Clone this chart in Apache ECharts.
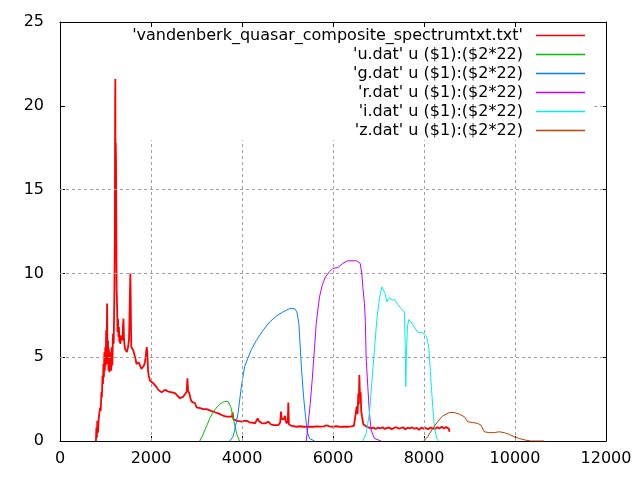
<!DOCTYPE html>
<html>
<head>
<meta charset="utf-8">
<script src="https://cdn.jsdelivr.net/npm/echarts@6/dist/echarts.min.js"></script>
<style>
  html, body { margin: 0; background: #fff; }
  #chart { width: 640px; height: 480px; }
</style>
</head>
<body>
<div id="chart"></div>
<script>
// quasar composite spectrum (wavelength in Angstrom, flux as plotted)
const specWave = [790, 800, 810, 820, 835, 850, 865, 880, 895, 910, 920, 935, 945, 955, 965, 975, 985, 995, 1005, 1015,
  1025, 1035, 1045, 1055, 1065, 1075, 1085, 1095, 1105, 1115, 1125, 1135, 1150, 1165, 1180, 1195, 1205, 1212, 1216, 1220,
  1225, 1231, 1238, 1245, 1255, 1265, 1275, 1285, 1295, 1305, 1315, 1325, 1335, 1350, 1363, 1375, 1385, 1395, 1405, 1415,
  1430, 1450, 1470, 1495, 1515, 1525, 1535, 1546, 1552, 1560, 1568, 1590, 1612, 1640, 1660, 1680, 1700, 1730, 1758, 1790,
  1817, 1845, 1868, 1890, 1905, 1919, 1935, 1950, 1978, 2000, 2050, 2090, 2125, 2161, 2198, 2235, 2270, 2308, 2345, 2381,
  2420, 2460, 2527, 2580, 2637, 2680, 2710, 2750, 2785, 2800, 2815, 2842, 2870, 2894, 2930, 2967, 3003, 3040, 3100, 3150,
  3223, 3260, 3320, 3370, 3420, 3480, 3553, 3600, 3663, 3720, 3751, 3780, 3795, 3810, 3846, 3900, 3941, 4000, 4050, 4103,
  4140, 4176, 4230, 4286, 4320, 4344, 4370, 4396, 4450, 4505, 4540, 4579, 4630, 4689, 4740, 4799, 4840, 4857, 4875, 4894,
  4920, 4945, 4960, 4982, 5007, 5018, 5030, 5055, 5090, 5128, 5200, 5280, 5350, 5421, 5500, 5580, 5650, 5720, 5800, 5861,
  5920, 6000, 6080, 6160, 6240, 6320, 6400, 6460, 6500, 6520, 6540, 6557, 6568, 6579, 6593, 6608, 6620, 6637, 6667, 6700,
  6740, 6790, 6840, 6890, 6940, 6990, 7040, 7090, 7140, 7190, 7240, 7290, 7340, 7390, 7440, 7490, 7540, 7590, 7640, 7690,
  7740, 7790, 7840, 7890, 7940, 7990, 8040, 8090, 8140, 8190, 8240, 8290, 8340, 8390, 8440, 8490, 8530, 8550, 8556];
const specFlux = [0, 0.8, 0.2, 1.2, 0.5, 1.3, 1.2, 2.0, 1.8, 2.9, 2.6, 3.9, 3.4, 4.6, 3.8, 5.3, 4.2, 5.6, 4.5, 6.6,
  5.0, 8.2, 4.6, 6.0, 4.2, 5.5, 4.1, 5.3, 4.3, 5.0, 4.2, 5.6, 4.5, 6.4, 5.8, 8.8, 12.0, 20.0, 21.6, 15.0,
  17.8, 16.8, 12.4, 9.0, 8.0, 6.5, 7.3, 6.2, 6.8, 5.9, 6.3, 5.8, 6.0, 5.9, 6.3, 6.0, 6.9, 7.3, 6.2, 5.8,
  5.5, 5.4, 5.3, 5.6, 6.0, 7.0, 8.5, 10.0, 9.0, 6.8, 5.6, 5.5, 5.4, 5.1, 4.9, 4.6, 4.5, 4.7, 4.6, 4.3,
  4.2, 4.5, 4.7, 5.2, 5.6, 5.3, 4.2, 3.9, 3.6, 3.55, 3.45, 3.35, 3.2, 3.05, 2.95, 2.9, 3.0, 3.05, 2.95, 2.95,
  3.0, 2.9, 2.85, 2.7, 2.55, 2.6, 2.65, 2.8, 2.95, 3.74, 3.0, 2.85, 2.5, 2.35, 2.3, 2.25, 2.0, 1.95, 1.95, 1.9,
  1.9, 1.85, 1.8, 1.75, 1.7, 1.65, 1.55, 1.5, 1.45, 1.45, 1.4, 1.45, 1.7, 1.3, 1.25, 1.2, 1.15, 1.15, 1.2, 1.2,
  1.15, 1.1, 1.1, 1.05, 1.15, 1.35, 1.2, 1.1, 1.05, 1.05, 1.1, 1.15, 1.0, 0.95, 0.95, 0.95, 1.1, 1.75, 1.3, 1.2,
  1.3, 1.5, 1.2, 1.05, 1.2, 2.3, 1.0, 0.95, 0.9, 0.85, 0.85, 0.88, 0.85, 0.85, 0.86, 0.85, 0.87, 0.86, 0.87, 0.94,
  0.87, 0.85, 0.88, 0.84, 0.86, 0.85, 0.87, 0.9, 0.95, 2.05, 1.6, 2.85, 2.2, 3.94, 2.65, 2.9, 1.8, 1.45, 1.0, 0.9,
  0.85, 0.8, 0.76, 0.8, 0.72, 0.8, 0.75, 0.82, 0.72, 0.78, 0.8, 0.7, 0.78, 0.82, 0.74, 0.77, 0.82, 0.7, 0.79, 0.75,
  0.81, 0.73, 0.78, 0.66, 0.8, 0.74, 0.78, 0.7, 0.8, 0.76, 0.72, 0.82, 0.75, 0.85, 0.74, 0.84, 0.78, 0.72, 0.55];

// SDSS filter curves, response as plotted (column 2 times 22)
const uWave = [3071, 3130, 3181, 3240, 3291, 3350, 3401, 3460, 3510, 3570, 3620, 3693, 3752, 3803, 3847, 3890, 3949];
const uResp = [0, 0.3, 0.65, 1.0, 1.35, 1.65, 1.85, 2.05, 2.2, 2.3, 2.35, 2.35, 2.05, 1.45, 0.85, 0.36, 0];
const gWave = [3730, 3800, 3840, 3913, 3986, 4059, 4132, 4205, 4315, 4461, 4607, 4753, 4900, 5046, 5156, 5207, 5250,
  5280, 5309, 5353, 5397, 5434, 5485, 5595];
const gResp = [0, 0.25, 0.65, 1.65, 3.25, 4.45, 4.95, 5.45, 6.0, 6.6, 7.1, 7.45, 7.7, 7.9, 7.9, 7.7, 7.0,
  5.6, 4.25, 2.65, 1.45, 0.55, 0.15, 0];
const rWave = [5412, 5448, 5500, 5543, 5595, 5631, 5670, 5704, 5763, 5836, 5924, 5997, 6107, 6216, 6325, 6523, 6597,
  6633, 6655, 6691, 6710, 6728, 6765, 6801, 6838, 6911, 7057];
const rResp = [0, 0.85, 2.25, 3.65, 5.6, 7.0, 7.9, 8.6, 9.3, 9.8, 10.1, 10.3, 10.35, 10.6, 10.75, 10.75, 10.6,
  10.0, 9.2, 8.2, 7.2, 5.0, 3.25, 1.65, 0.65, 0.15, 0];
const iWave = [6655, 6728, 6801, 6852, 6911, 6962, 7021, 7072, 7108, 7145, 7181, 7240, 7299, 7350, 7423, 7496, 7569,
  7585, 7599, 7615, 7635, 7664, 7716, 7789, 7862, 7972, 8060, 8104, 8133, 8162, 8192, 8228, 8279, 8337];
const iResp = [0, 0.45, 1.65, 3.45, 5.45, 7.2, 8.5, 9.2, 9.3, 8.8, 8.3, 8.55, 8.4, 8.45, 8.15, 7.9, 7.7,
  6.0, 3.25, 5.25, 6.8, 7.25, 7.1, 6.8, 6.5, 6.45, 6.2, 5.6, 4.45, 3.25, 2.05, 0.85, 0.15, 0];
const zWave = [7994, 8081, 8192, 8301, 8411, 8557, 8666, 8776, 8886, 8960, 9068, 9178, 9252, 9324, 9434, 9543, 9653,
  9763, 9873, 9982, 10092, 10239, 10348, 10640];
const zResp = [0, 0.25, 0.75, 1.15, 1.5, 1.7, 1.7, 1.6, 1.45, 1.15, 1.1, 1.05, 0.95, 0.55, 0.5, 0.5, 0.55,
  0.5, 0.4, 0.25, 0.15, 0.05, 0, 0];

const seriesNames = [
  "'vandenberk_quasar_composite_spectrumtxt.txt'",
  "'u.dat' u ($1):($2*22)",
  "'g.dat' u ($1):($2*22)",
  "'r.dat' u ($1):($2*22)",
  "'i.dat' u ($1):($2*22)",
  "'z.dat' u ($1):($2*22)"
];
const seriesColors = ['#ff0000', '#00c000', '#0080ff', '#c000ff', '#00eeee', '#c04000'];
const gridX = [2000, 4000, 6000, 8000, 10000];
const gridY = [5, 10, 15];

const font = 'DejaVu Sans';
const pairs = (xs, ys) => xs.map((x, i) => [x, ys[i]]);
const curves = [
  pairs(specWave, specFlux), pairs(uWave, uResp), pairs(gWave, gResp),
  pairs(rWave, rResp), pairs(iWave, iResp), pairs(zWave, zResp)
];

// grid lines stop under the key, like gnuplot does
const gridLines = [];
gridX.forEach(x => gridLines.push([{ coord: [x, 0] }, { coord: [x, 17.95] }]));
gridY.forEach(y => gridLines.push([{ coord: [0, y] }, { coord: [12000, y] }]));
gridLines.push([{ coord: [11740, 20] }, { coord: [12000, 20] }]);

const tickStyle = { show: true, inside: true, length: 5, lineStyle: { color: '#000' } };
const lineAxis = { show: true, onZero: false, lineStyle: { color: '#000', width: 1 } };
const labelStyle = { color: '#000', fontSize: 16, fontFamily: font, formatter: v => String(v) };

const chart = echarts.init(document.getElementById('chart'));
chart.setOption({
  animation: false,
  backgroundColor: '#fff',
  grid: { left: 60, right: 34, top: 22, bottom: 39 },
  legend: seriesNames.map((name, i) => ({
    data: [name],
    right: 55,
    top: 26 + i * 19,
    align: 'right',
    padding: 0,
    icon: 'rect',
    itemWidth: 49,
    itemHeight: 1.5,
    selectedMode: false,
    textStyle: { color: '#000', fontSize: 16, lineHeight: 19, fontFamily: font, padding: [0, 8, 0, 0] }
  })),
  xAxis: [
    {
      type: 'value', min: 0, max: 12000, interval: 2000,
      axisLine: lineAxis, axisTick: tickStyle, splitLine: { show: false },
      axisLabel: Object.assign({ margin: 10 }, labelStyle)
    },
    {
      type: 'value', position: 'top', min: 0, max: 12000, interval: 2000,
      axisLine: lineAxis, axisTick: tickStyle, splitLine: { show: false },
      axisLabel: { show: false }
    }
  ],
  yAxis: [
    {
      type: 'value', min: 0, max: 25, interval: 5,
      axisLine: lineAxis, axisTick: tickStyle, splitLine: { show: false },
      axisLabel: Object.assign({ margin: 16 }, labelStyle)
    },
    {
      type: 'value', position: 'right', min: 0, max: 25, interval: 5,
      axisLine: lineAxis, axisTick: tickStyle, splitLine: { show: false },
      axisLabel: { show: false }
    }
  ],
  series: [
    {
      name: 'grid',
      type: 'line',
      data: [[0, 0]],
      symbol: 'none',
      lineStyle: { opacity: 0 },
      silent: true,
      z: 1,
      markLine: {
        silent: true,
        symbol: 'none',
        label: { show: false },
        lineStyle: { color: '#a0a0a0', width: 1, type: [3, 3] },
        emphasis: { disabled: true },
        data: gridLines
      }
    }
  ].concat(curves.map((data, i) => ({
    name: seriesNames[i],
    type: 'line',
    data: data,
    symbol: 'none',
    z: 2 + i,
    color: seriesColors[i],
    lineStyle: { color: seriesColors[i], width: i === 0 ? 1.8 : 1 },
    emphasis: { disabled: true }
  })))
});
</script>
</body>
</html>
